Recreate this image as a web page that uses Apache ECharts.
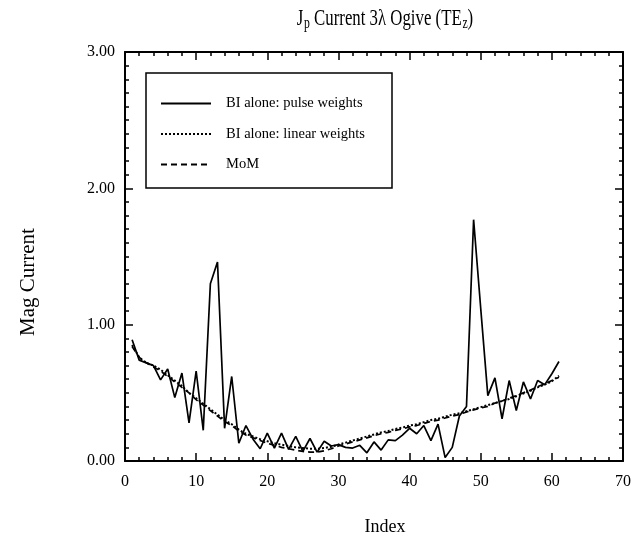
<!DOCTYPE html>
<html>
<head>
<meta charset="utf-8">
<script src="https://cdn.jsdelivr.net/npm/echarts@6/dist/echarts.min.js"></script>
<style>
  html, body { margin: 0; padding: 0; background: #fff; }
  #main { width: 639px; height: 545px; }
</style>
</head>
<body>
<div id="main"></div>
<script>
// index 1..61
var indexes = [];
for (var k = 1; k <= 61; k++) indexes.push(k);

var pulseWeights = [
  0.89, 0.74, 0.72, 0.70, 0.595, 0.675, 0.465, 0.645, 0.28, 0.66,
  0.225, 1.30, 1.46, 0.24, 0.62, 0.13, 0.26, 0.16, 0.09, 0.205,
  0.095, 0.205, 0.085, 0.18, 0.07, 0.165, 0.065, 0.145, 0.11, 0.12,
  0.10, 0.095, 0.115, 0.06, 0.14, 0.08, 0.155, 0.15, 0.19, 0.24,
  0.20, 0.26, 0.15, 0.27, 0.025, 0.10, 0.33, 0.40, 1.77, 1.12,
  0.48, 0.61, 0.31, 0.59, 0.37, 0.58, 0.455, 0.59, 0.56, 0.64,
  0.73
];

var linearWeights = [
  0.85, 0.76, 0.72, 0.70, 0.67, 0.63, 0.59, 0.55, 0.50, 0.46,
  0.42, 0.38, 0.34, 0.30, 0.27, 0.23, 0.20, 0.18, 0.16, 0.145,
  0.13, 0.12, 0.11, 0.10, 0.095, 0.09, 0.09, 0.095, 0.105, 0.12,
  0.135, 0.15, 0.165, 0.18, 0.195, 0.21, 0.22, 0.235, 0.245, 0.26,
  0.27, 0.285, 0.30, 0.31, 0.325, 0.34, 0.35, 0.365, 0.38, 0.395,
  0.41, 0.425, 0.44, 0.455, 0.475, 0.495, 0.515, 0.54, 0.56, 0.585,
  0.625
];

var momValues = [
  0.84, 0.76, 0.72, 0.69, 0.66, 0.62, 0.58, 0.54, 0.50, 0.45,
  0.41, 0.37, 0.33, 0.29, 0.26, 0.22, 0.19, 0.17, 0.15, 0.13,
  0.115, 0.10, 0.09, 0.08, 0.07, 0.065, 0.065, 0.075, 0.09, 0.11,
  0.125, 0.14, 0.155, 0.17, 0.185, 0.20, 0.21, 0.225, 0.235, 0.25,
  0.26, 0.275, 0.29, 0.30, 0.315, 0.33, 0.34, 0.36, 0.375, 0.39,
  0.40, 0.425, 0.44, 0.46, 0.48, 0.50, 0.52, 0.545, 0.565, 0.59,
  0.615
];

var seriesNames = ['BI alone: pulse weights', 'BI alone: linear weights', 'MoM'];

function pairs(vals) {
  return indexes.map(function (x, i) { return [x, vals[i]]; });
}

var serif = '"Liberation Serif", "DejaVu Serif", serif';
var tickStyle = { color: '#000', width: 1.5 };

function xAxisDef(pos, showLabel) {
  return {
    type: 'value', position: pos, min: 0, max: 70, interval: 10,
    axisLine: { show: true, onZero: false, lineStyle: { color: '#000', width: 2 } },
    axisTick: { show: true, inside: true, length: 8, lineStyle: tickStyle },
    minorTick: { show: true, splitNumber: 5, length: 4, lineStyle: tickStyle },
    splitLine: { show: false },
    axisLabel: { show: showLabel, color: '#000', fontFamily: serif, fontSize: 16, margin: 13 }
  };
}

function yAxisDef(pos, showLabel) {
  return {
    type: 'value', position: pos, min: 0, max: 3, interval: 1,
    axisLine: { show: true, onZero: false, lineStyle: { color: '#000', width: 2 } },
    axisTick: { show: true, inside: true, length: 8, lineStyle: tickStyle },
    minorTick: { show: true, splitNumber: 10, length: 4, lineStyle: tickStyle },
    splitLine: { show: false },
    axisLabel: {
      show: showLabel, color: '#000', fontFamily: serif, fontSize: 16, margin: 10,
      formatter: function (v) { return v.toFixed(2); }
    }
  };
}

var myChart = echarts.init(document.getElementById('main'));
var option = {
  backgroundColor: '#fff',
  animation: false,
  grid: { left: 125, right: 16, top: 52, bottom: 84 },
  legend: {
    orient: 'vertical', left: 160, top: 96, padding: 0,
    itemWidth: 50, itemHeight: 12, itemGap: 15.5,
    itemStyle: { opacity: 0 },
    textStyle: { fontFamily: serif, fontSize: 14.5, color: '#000', padding: [0, 0, 0, 10] },
    data: seriesNames
  },
  graphic: [
    { type: 'rect', shape: { x: 146, y: 73, width: 246, height: 115 }, style: { fill: 'none', stroke: '#000', lineWidth: 1.5 }, z: 10 },
    {
      type: 'text', x: 385, y: 7, scaleX: 0.73,
      style: {
        text: '{a|J}{sub|p}{a| Current 3λ Ogive (TE}{sub|z}{a|)}',
        align: 'center', verticalAlign: 'top', fill: '#000',
        rich: {
          a: { fontFamily: serif, fontSize: 23, fill: '#000', lineHeight: 25, verticalAlign: 'top' },
          sub: { fontFamily: serif, fontSize: 16, fill: '#000', lineHeight: 17, verticalAlign: 'bottom', padding: [14, 0, 0, 1] }
        }
      }
    },
    { type: 'text', x: 28, y: 282, rotation: Math.PI / 2, style: { text: 'Mag Current', font: '21px ' + serif, fill: '#000', textAlign: 'center', textVerticalAlign: 'middle' } },
    { type: 'text', x: 385, y: 527, style: { text: 'Index', font: '18px ' + serif, fill: '#000', textAlign: 'center', textVerticalAlign: 'middle' } }
  ],
  xAxis: [xAxisDef('bottom', true), xAxisDef('top', false)],
  yAxis: [yAxisDef('left', true), yAxisDef('right', false)],
  series: [
    {
      name: seriesNames[0], type: 'line', data: pairs(pulseWeights), showSymbol: false, symbol: 'none',
      lineStyle: { color: '#000', width: 1.7, type: 'solid' }, itemStyle: { color: '#000' }, z: 5
    },
    {
      name: seriesNames[1], type: 'line', data: pairs(linearWeights), showSymbol: false, symbol: 'none',
      lineStyle: { color: '#000', width: 2, type: [2, 2] }, itemStyle: { color: '#000' }, z: 4
    },
    {
      name: seriesNames[2], type: 'line', data: pairs(momValues), showSymbol: false, symbol: 'none',
      lineStyle: { color: '#000', width: 1.7, type: [6, 4] }, itemStyle: { color: '#000' }, z: 3
    }
  ]
};
myChart.setOption(option);
</script>
</body>
</html>
